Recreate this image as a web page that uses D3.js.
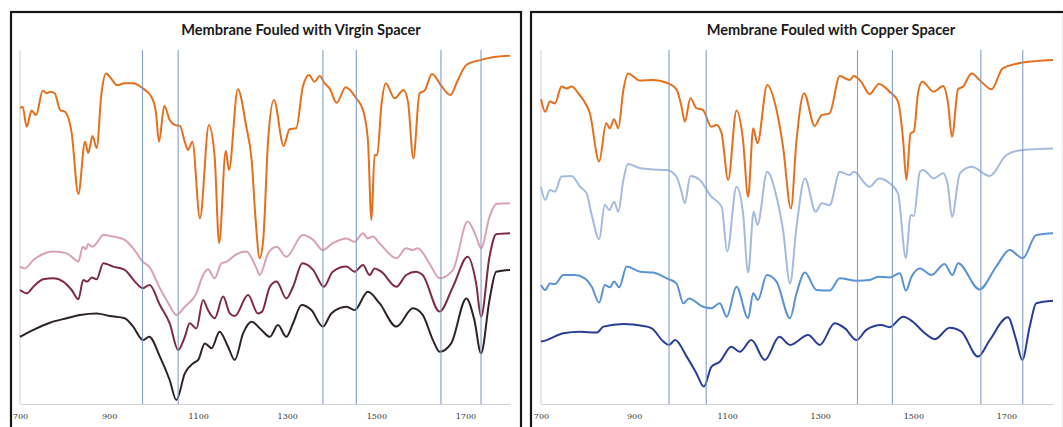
<!DOCTYPE html>
<html><head><meta charset="utf-8">
<script src="https://cdn.jsdelivr.net/npm/d3@7"></script>
<style>
  body { margin: 0; background: #fff; }
  svg { display: block; }
</style>
</head><body>
<svg id="chart" width="1063" height="427"></svg>
<script>
// Wavenumber axis (cm-1) and reference band positions
const xTicks = [700, 900, 1100, 1300, 1500, 1700];
const bandLines = [975, 1055, 1380, 1455, 1645, 1735];
const panelTitles = ["Membrane Fouled with Virgin Spacer", "Membrane Fouled with Copper Spacer"];

// Spectra: [wavenumber, transmittance (a.u., vertically offset)]
const virginClean = [
  [700,98.6],[706,99.1],[715,92.4],[726,97.8],[736,96.3],[751,104.4],[760,103.6],[769,104.1],[778,103.6],
  [790,98.0],[801,97.4],[816,90.3],[831,70.0],[846,87.4],[853,83.7],[863,89.3],[872,85.3],[883,103.7],
  [893,110.2],[904,108.6],[918,106.3],[935,106.9],[954,106.9],[976,105.2],[995,102.4],[1005,97.4],
  [1012,87.4],[1024,99.3],[1036,94.7],[1048,93.0],[1059,92.7],[1070,87.4],[1077,84.7],[1087,87.4],
  [1104,61.9],[1124,93.0],[1137,82.4],[1147,53.6],[1162,84.4],[1169,78.0],[1189,104.9],[1208,92.4],
  [1220,81.3],[1229,61.3],[1238,48.6],[1246,54.7],[1257,88.0],[1270,101.3],[1292,86.0],[1305,91.6],
  [1320,91.9],[1335,105.8],[1349,109.7],[1361,107.4],[1373,109.3],[1384,106.9],[1395,105.2],[1411,100.4],
  [1431,105.6],[1455,101.9],[1470,98.0],[1481,88.0],[1489,61.3],[1496,83.0],[1502,83.0],[1511,99.1],
  [1521,106.9],[1541,101.9],[1561,104.7],[1571,100.8],[1583,81.9],[1597,103.6],[1608,104.4],[1625,110.0],
  [1646,106.0],[1666,103.0],[1683,108.0],[1702,113.0],[1735,114.7],[1761,115.6],[1800,116.1]
];
const virginFouledA = [
  [700,45.8],[711,45.2],[730,48.0],[752,50.0],[775,50.8],[805,50.2],[823,48.2],[831,47.4],[841,52.4],
  [848,51.6],[853,53.3],[863,52.4],[872,53.6],[887,56.3],[909,55.8],[935,54.7],[954,51.9],[976,47.4],
  [990,45.8],[1014,38.6],[1033,33.6],[1051,29.7],[1070,32.4],[1096,36.9],[1111,43.0],[1122,44.9],
  [1137,41.9],[1152,46.9],[1163,47.4],[1184,49.7],[1208,50.8],[1231,45.2],[1238,43.0],[1257,50.2],
  [1276,52.4],[1298,49.1],[1335,56.3],[1358,54.7],[1380,51.3],[1402,53.6],[1433,55.2],[1451,54.1],
  [1470,56.9],[1481,55.2],[1492,55.8],[1507,53.6],[1545,48.6],[1567,51.9],[1582,51.3],[1593,51.9],
  [1619,46.9],[1642,41.9],[1672,44.7],[1705,60.8],[1724,55.8],[1735,51.9],[1754,62.4],[1769,66.7],[1800,66.9]
];
const virginFouledB = [
  [700,38.0],[715,36.9],[730,39.1],[752,41.6],[775,41.9],[797,40.8],[816,38.0],[831,34.9],[842,41.3],
  [851,40.8],[861,42.2],[872,41.6],[887,46.9],[909,45.8],[935,44.7],[958,40.8],[976,38.6],[991,39.7],
  [1014,33.0],[1036,26.9],[1055,18.0],[1070,22.4],[1081,26.9],[1096,25.2],[1111,34.7],[1122,31.3],
  [1137,28.6],[1156,35.8],[1171,30.2],[1182,29.3],[1212,36.3],[1234,30.2],[1243,30.7],[1261,39.1],
  [1276,40.8],[1298,35.2],[1313,39.1],[1334,46.9],[1358,44.7],[1382,39.1],[1402,44.1],[1433,45.8],
  [1451,44.1],[1470,46.3],[1485,43.0],[1496,45.2],[1511,44.1],[1545,39.1],[1567,43.0],[1589,44.1],
  [1604,43.0],[1642,30.8],[1672,39.1],[1705,49.1],[1724,40.2],[1735,29.1],[1754,49.1],[1769,56.6],[1800,56.9]
];
const virginFouledC = [
  [700,22.4],[730,24.7],[767,27.1],[805,28.6],[835,29.7],[872,30.2],[902,29.3],[935,28.6],[954,25.8],
  [976,21.3],[990,22.4],[1014,15.8],[1036,8.0],[1051,1.3],[1070,10.2],[1089,13.6],[1100,14.7],[1115,20.2],
  [1130,18.6],[1148,24.1],[1167,19.1],[1182,14.7],[1201,23.6],[1220,27.4],[1242,24.7],[1261,22.4],
  [1279,26.3],[1298,22.4],[1313,26.9],[1332,33.0],[1354,31.3],[1380,25.8],[1399,30.2],[1433,32.4],
  [1451,31.3],[1481,37.4],[1507,33.6],[1545,25.8],[1582,31.9],[1604,29.7],[1627,21.3],[1642,17.4],
  [1668,20.2],[1702,35.2],[1720,28.0],[1735,16.9],[1754,34.7],[1769,44.1],[1800,44.7]
];
const copperClean = [
  [700,101.6],[709,97.4],[719,100.8],[730,100.2],[744,105.8],[755,105.2],[766,105.8],[780,103.6],[791,101.3],
  [805,96.9],[825,80.8],[840,93.6],[848,91.9],[857,94.9],[866,91.9],[877,104.7],[887,110.2],[913,107.8],
  [941,108.0],[970,107.1],[991,104.9],[1002,99.1],[1009,94.1],[1021,101.9],[1034,98.6],[1048,98.0],
  [1066,92.4],[1077,93.0],[1088,90.2],[1102,74.7],[1120,97.8],[1134,88.0],[1145,69.1],[1156,91.9],
  [1165,86.9],[1186,106.3],[1206,98.0],[1220,85.8],[1237,65.2],[1249,88.0],[1265,103.6],[1288,92.7],
  [1303,96.3],[1320,96.9],[1342,109.3],[1363,108.0],[1372,109.3],[1388,107.4],[1406,103.3],[1426,106.7],
  [1449,104.1],[1467,100.8],[1478,88.0],[1485,74.7],[1494,90.2],[1501,90.8],[1510,103.6],[1519,107.4],
  [1544,104.1],[1564,106.0],[1574,100.8],[1583,89.1],[1596,104.9],[1607,105.8],[1625,110.2],[1646,107.4],
  [1668,104.9],[1692,111.9],[1735,113.8],[1800,114.7]
];
const copperFouledA = [
  [700,72.4],[709,68.0],[719,71.3],[730,70.8],[744,75.8],[766,76.0],[784,72.4],[798,70.2],[809,63.0],
  [825,54.9],[837,66.3],[847,64.7],[857,67.4],[866,64.1],[877,74.7],[887,80.0],[913,78.6],[941,78.2],
  [970,78.0],[991,75.8],[1001,71.3],[1009,66.9],[1021,76.0],[1041,74.7],[1066,69.1],[1088,65.8],
  [1100,50.8],[1120,72.4],[1134,63.6],[1145,43.8],[1157,64.1],[1165,59.7],[1186,77.4],[1206,69.1],
  [1220,58.0],[1235,40.2],[1249,59.1],[1267,75.2],[1290,64.1],[1303,66.9],[1320,66.3],[1342,77.4],
  [1363,76.3],[1372,77.4],[1406,72.4],[1426,75.2],[1449,73.6],[1467,70.2],[1484,48.6],[1494,63.0],
  [1501,62.7],[1514,77.4],[1521,78.0],[1544,75.2],[1564,76.9],[1574,73.0],[1583,62.4],[1600,76.9],
  [1625,79.1],[1664,76.0],[1700,83.0],[1735,84.7],[1800,85.2]
];
const copperFouledB = [
  [700,39.7],[709,38.0],[719,40.2],[730,40.0],[748,43.0],[773,43.0],[794,41.9],[809,39.1],[825,33.8],
  [837,39.7],[848,38.9],[857,40.8],[868,38.9],[884,45.8],[913,44.1],[941,43.8],[970,41.9],[991,40.2],
  [1006,33.6],[1018,35.2],[1048,32.4],[1066,31.9],[1084,33.6],[1099,29.1],[1120,39.1],[1145,28.6],
  [1156,36.9],[1166,34.7],[1185,43.0],[1206,40.8],[1235,28.6],[1249,36.9],[1267,43.8],[1292,38.0],
  [1320,37.8],[1342,41.9],[1378,41.1],[1406,41.3],[1424,42.4],[1449,42.2],[1471,43.6],[1484,37.8],
  [1496,42.4],[1514,45.2],[1539,43.0],[1567,46.7],[1584,43.0],[1596,46.9],[1642,38.2],[1678,45.8],
  [1707,51.3],[1735,48.6],[1764,56.3],[1800,56.9]
];
const copperFouledC = [
  [700,20.8],[712,21.3],[748,23.6],[784,24.1],[820,23.8],[834,25.8],[877,26.7],[920,26.0],[938,25.2],
  [963,20.8],[975,19.7],[988,21.3],[1013,15.8],[1034,10.2],[1050,5.8],[1066,12.4],[1084,14.1],[1109,19.1],
  [1127,17.4],[1152,21.3],[1181,14.7],[1212,22.4],[1235,19.7],[1274,23.0],[1299,19.7],[1331,26.9],
  [1353,25.2],[1378,21.3],[1399,24.7],[1431,26.3],[1449,25.6],[1478,29.1],[1499,27.4],[1521,24.1],
  [1546,21.6],[1578,25.4],[1603,24.1],[1639,15.8],[1664,21.3],[1703,28.9],[1721,21.3],[1734,14.7],
  [1750,25.8],[1764,33.6],[1800,34.4]
];

const panels = [
  { title: panelTitles[0], frameX: 11, plotX: [20, 510], titleX: 301,
    series: [
      { data: virginFouledC, color: "#2e2226" },
      { data: virginFouledB, color: "#7e2a47" },
      { data: virginFouledA, color: "#d9a2b4" },
      { data: virginClean,  color: "#e46f1c" }
    ] },
  { title: panelTitles[1], frameX: 531, plotX: [541, 1053], titleX: 831,
    series: [
      { data: copperFouledC, color: "#283d97" },
      { data: copperFouledB, color: "#5b92d4" },
      { data: copperFouledA, color: "#a3bbdc" },
      { data: copperClean,  color: "#e46f1c" }
    ] }
];

const svg = d3.select("#chart");
const plotTop = 50, plotBottom = 404;
const y = d3.scaleLinear().domain([0, 118]).range([plotBottom, plotTop]);

panels.forEach(p => {
  const g = svg.append("g");
  const x = d3.scaleLinear().domain([700, 1800]).range(p.plotX);

  // panel frame
  g.append("rect")
    .attr("x", p.frameX).attr("y", 12)
    .attr("width", p.plotX[1] + 11 - p.frameX).attr("height", 440)
    .attr("fill", "none").attr("stroke", "#161616").attr("stroke-width", 2.2);

  // title
  g.append("text")
    .attr("x", p.titleX).attr("y", 35)
    .attr("text-anchor", "middle")
    .attr("font-family", "Lato, 'Open Sans', sans-serif")
    .attr("font-weight", "bold").attr("font-size", 14.6)
    .attr("fill", "#1a1a1a")
    .text(p.title);

  // y axis line (no labels)
  g.append("line")
    .attr("x1", p.plotX[0]).attr("x2", p.plotX[0])
    .attr("y1", plotTop).attr("y2", plotBottom)
    .attr("stroke", "#cfcfcf").attr("stroke-width", 1);

  // x axis
  const xAxis = d3.axisBottom(x).tickValues(xTicks).tickFormat(d3.format("d"))
    .tickSize(0).tickPadding(9);
  const ax = g.append("g").attr("transform", `translate(0,${plotBottom})`).call(xAxis);
  ax.select(".domain").attr("stroke", "#cfcfcf");
  ax.selectAll("text")
    .attr("font-family", "'DejaVu Serif', serif")
    .attr("font-size", 8).attr("fill", "#333");

  // spectra
  const line = d3.line()
    .x(d => x(d[0])).y(d => y(d[1]))
    .curve(d3.curveMonotoneX);
  p.series.forEach(s => {
    g.append("path").datum(s.data)
      .attr("d", line)
      .attr("fill", "none")
      .attr("stroke", s.color)
      .attr("stroke-width", 2)
      .attr("stroke-linejoin", "round");
  });

  // reference band markers
  g.selectAll("line.band").data(bandLines).join("line")
    .attr("class", "band")
    .attr("x1", d => x(d)).attr("x2", d => x(d))
    .attr("y1", plotTop).attr("y2", plotBottom)
    .attr("stroke", "#7f9cc6").attr("stroke-width", 1.2).attr("stroke-opacity", 0.9);
});
</script>
</body></html>
